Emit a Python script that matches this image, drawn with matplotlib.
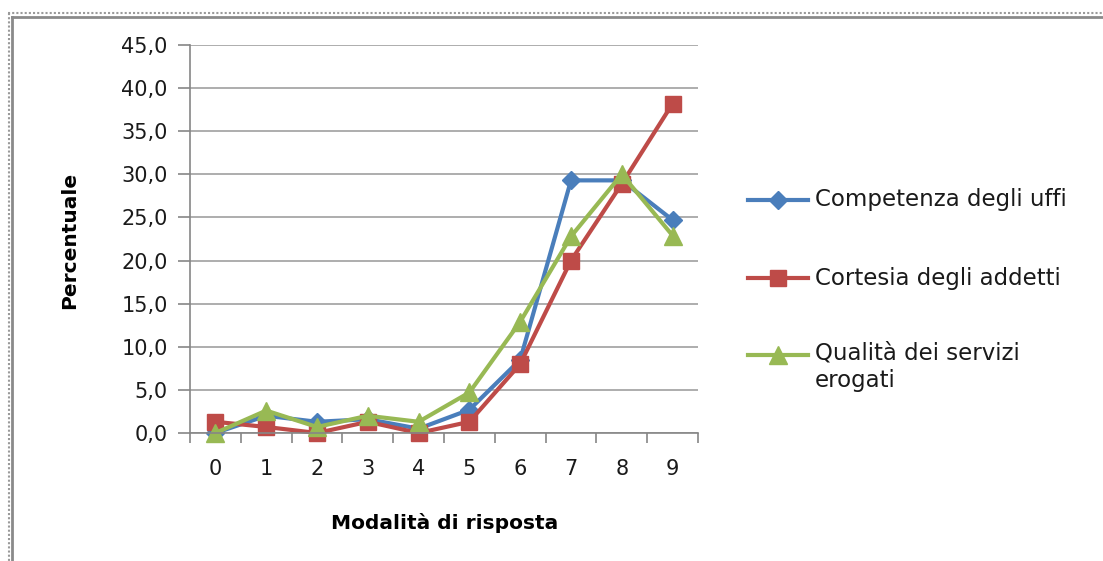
import matplotlib
matplotlib.use("Agg")
import matplotlib.pyplot as plt
from matplotlib.lines import Line2D

categories = [0, 1, 2, 3, 4, 5, 6, 7, 8, 9]
competenza = [0.0, 2.0, 1.3, 1.6, 0.5, 2.7, 8.5, 29.3, 29.3, 24.7]
cortesia = [1.3, 0.7, 0.0, 1.3, 0.0, 1.3, 8.0, 20.0, 28.9, 38.2]
qualita = [0.0, 2.6, 0.7, 2.0, 1.3, 4.7, 12.9, 22.8, 30.0, 22.9]
labels = ["Competenza degli uffi", "Cortesia degli addetti", "Qualità dei servizi\nerogati"]
yticks = [0, 5, 10, 15, 20, 25, 30, 35, 40, 45]

plt.rcParams['font.family'] = ['DejaVu Sans']

W, H = 1103, 561
fig = plt.figure(figsize=(W / 100, H / 100), dpi=100)
ax = fig.add_axes([190 / W, 1 - 433 / H, (698 - 190) / W, (433 - 45) / H])

colors = ["#4a7ebb", "#be4b48", "#98b954"]
markers = ["D", "s", "^"]
msizes = [9.5, 12, 13]
series = [competenza, cortesia, qualita]
for s, c, m, ms in zip(series, colors, markers, msizes):
    ax.plot(categories, s, color=c, lw=3, marker=m, markersize=ms,
            markeredgecolor=c, clip_on=False, solid_joinstyle='round')

ax.set_xlim(-0.5, 9.5)
ax.set_ylim(0, 45)
ax.set_yticks(yticks)
ax.set_yticklabels([f"{v:.1f}".replace(".", ",") for v in yticks], fontsize=15,
                   color="#1a1a1a")
ax.set_xticks(categories)
ax.set_xticklabels([str(c) for c in categories], fontsize=15, color="#1a1a1a")
ax.set_xticks([x - 0.5 for x in categories] + [9.5], minor=True)
ax.tick_params(axis='x', which='major', length=0, pad=19)
ax.tick_params(axis='x', which='minor', length=7, color="#868686", width=1.2)
ax.tick_params(axis='y', length=9, color="#868686", width=1.2, pad=7)
ax.grid(axis='y', color="#a0a0a0", lw=1.2)
ax.set_axisbelow(True)
for sp in ['top', 'right']:
    ax.spines[sp].set_visible(False)
for sp in ['left', 'bottom']:
    ax.spines[sp].set_color("#868686")
    ax.spines[sp].set_linewidth(1.2)

fig.text(70 / W, 1 - 240 / H, "Percentuale", fontsize=14.5, fontweight='bold',
         rotation=90, ha='center', va='center')
fig.text(445 / W, 1 - 523 / H, "Modalità di risposta", fontsize=14.5,
         fontweight='bold', ha='center', va='center')

# legend drawn manually
leg_y = [200, 278, 355]
for s_lab, c, m, ms, y in zip(labels, colors, markers, msizes, leg_y):
    yf = 1 - y / H
    fig.add_artist(Line2D([748 / W, 808 / W], [yf, yf], color=c, lw=3,
                          transform=fig.transFigure))
    fig.add_artist(Line2D([778 / W], [yf], color=c, marker=m, markersize=ms,
                          markeredgecolor=c, transform=fig.transFigure))
    if "\n" in s_lab:
        fig.text(815 / W, yf + 14 / H, s_lab, fontsize=16.5, ha='left', va='top',
                 linespacing=1.3, color="#1a1a1a")
    else:
        fig.text(815 / W, yf, s_lab, fontsize=16.5, ha='left', va='center',
                 color="#1a1a1a")

# outer frame (top and left edges only)
tf = fig.transFigure
fig.add_artist(Line2D([8 / W, 1.0], [1 - 13 / H, 1 - 13 / H], color="#9a9a9a",
                      lw=1.5, ls=(0, (1, 1)), transform=tf))
fig.add_artist(Line2D([8.5 / W, 8.5 / W], [1 - 13 / H, 0], color="#9a9a9a",
                      lw=1.5, ls=(0, (1, 1)), transform=tf))
fig.add_artist(Line2D([11.5 / W, 1.0], [1 - 16.5 / H, 1 - 16.5 / H], color="#8a8a8a",
                      lw=2, transform=tf))
fig.add_artist(Line2D([11.5 / W, 11.5 / W], [1 - 16.5 / H, 0], color="#8a8a8a",
                      lw=2, transform=tf))

fig.savefig("out.png", dpi=100)
